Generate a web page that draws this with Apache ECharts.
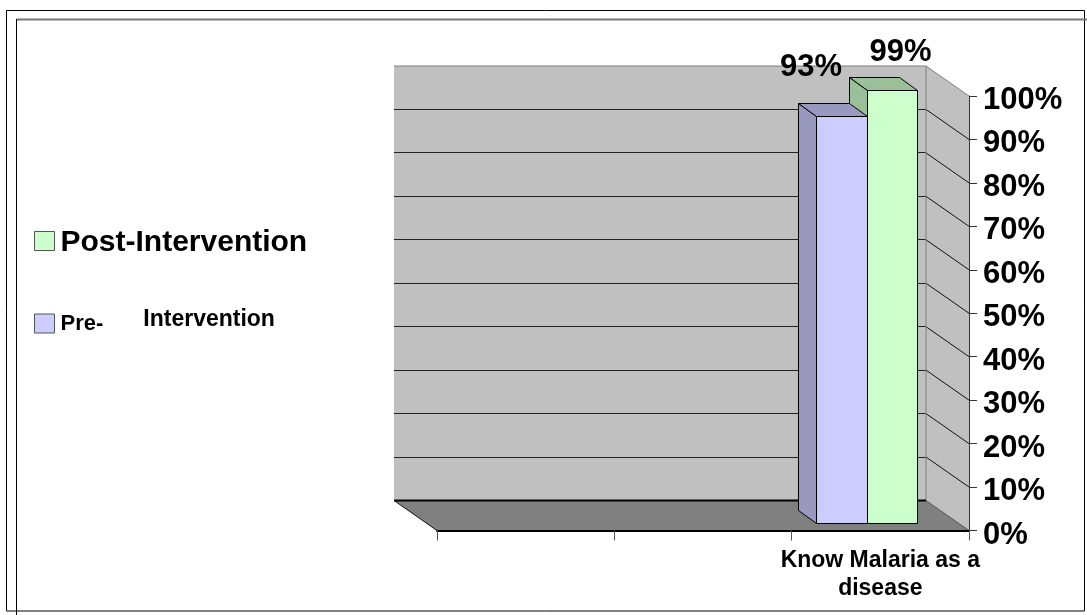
<!DOCTYPE html>
<html>
<head>
<meta charset="utf-8">
<script src="https://cdn.jsdelivr.net/npm/echarts@6/dist/echarts.min.js"></script>
<style>html,body{margin:0;padding:0;background:#fff}#c{width:1087px;height:615px}</style>
</head>
<body>
<div id="c"></div>
<script>
var categories = ['', ' ', 'Know Malaria as a\ndisease'];
var wallTicks = [0, 10, 20, 30, 40, 50, 60, 70, 80, 90, 100];
var preValues = [[2, 93]];
var postValues = [[2, 99]];
var seriesNames = ['Post-Intervention', 'Pre-Intervention'];

var FONT = '"Liberation Sans", Arial, sans-serif';
var DEPTH = [-43, -30];
var BAR_FRONT = [-13, -7];
var BAR_DEPTH = [-18, -13];
var BAR_W = 0.2855;
var BAR_SCALE = 1.006;

function poly(points, fill, stroke, lw) {
  return {type: 'polygon', shape: {points: points},
    style: {fill: fill, stroke: stroke || null, lineWidth: lw || 0}};
}
function line(a, b, color, lw) {
  return {type: 'line', shape: {x1: a[0], y1: a[1], x2: b[0], y2: b[1]},
    style: {stroke: color, lineWidth: lw || 1, fill: null}};
}
function off(p, d) { return [p[0] + d[0], p[1] + d[1]]; }
function snap(v) { return Math.floor(v) + 0.5; }

function renderWalls(params, api) {
  var band = api.size([1, 0])[0];
  var x0 = api.coord([0, 0])[0] - band / 2;
  var x1 = api.coord([2, 0])[0] + band / 2;
  var yAt = function (v) { return api.coord([0, v])[1]; };
  var fl = [x0, yAt(0)], fr = [x1, yAt(0)], tr = [x1, yAt(100)];
  var bl = off(fl, DEPTH), br = off(fr, DEPTH), btr = off(tr, DEPTH), btl = [bl[0], btr[1]];
  var kids = [
    poly([btl, btr, br, bl], '#c0c0c0'),
    poly([btr, tr, fr, br], '#c0c0c0'),
    poly([bl, br, fr, fl], '#808080')
  ];
  wallTicks.forEach(function (v) {
    if (v === 0 || v === 100) return;
    var f = [x1, yAt(v)], b = off(f, DEPTH);
    kids.push(line([bl[0], snap(b[1])], [b[0], snap(b[1])], '#222', 1));
    kids.push(line(b, f, '#111', 1));
  });
  kids.push(line(btl, btr, '#808080', 1));
  kids.push(line(btr, tr, '#808080', 1));
  kids.push(line(btr, br, '#808080', 1));
  kids.push(line(br, fr, '#555', 1));
  kids.push(line(bl, br, '#000', 2));
  kids.push(line(bl, fl, '#111', 1));
  return {type: 'group', children: kids};
}

function makeBar(slot, front, top, side, labelDx, labelDy) {
  return function (params, api) {
    var band = api.size([1, 0])[0];
    var v = api.value(1);
    var c = api.coord([api.value(0), 0]);
    var w = band * BAR_W;
    var xl = snap(c[0] + BAR_FRONT[0] + slot * w);
    var xr = snap(c[0] + BAR_FRONT[0] + (slot + 1) * w);
    var yb = snap(c[1] + BAR_FRONT[1]);
    var yt = snap(yb - (c[1] - api.coord([api.value(0), v])[1]) * BAR_SCALE);
    var a = [xl, yt], b = [xr, yt], d = [xl, yb], e = [xr, yb];
    return {type: 'group', children: [
      poly([off(a, BAR_DEPTH), a, d, off(d, BAR_DEPTH)], side, '#000', 1),
      poly([off(a, BAR_DEPTH), off(b, BAR_DEPTH), b, a], top, '#000', 1),
      poly([a, b, e, d], front, '#000', 1),
      {type: 'text', z2: 50, style: {
        text: v + '%', x: (xl + xr) / 2 + labelDx, y: yt + labelDy,
        font: 'bold 31px ' + FONT, fill: '#000', align: 'center', verticalAlign: 'middle'
      }}
    ]};
  };
}

var chart = echarts.init(document.getElementById('c'), null, {renderer: 'canvas'});
chart.setOption({
  animation: false,
  backgroundColor: '#fff',
  graphic: [
    {type: 'rect', z: 100, shape: {x: 6.5, y: 10.5, width: 1078, height: 600.5},
      style: {fill: null, stroke: '#000', lineWidth: 1}},
    {type: 'line', z: 100, shape: {x1: 16.5, y1: 19.5, x2: 1087, y2: 19.5},
      style: {stroke: '#777', lineWidth: 2}},
    {type: 'line', z: 100, shape: {x1: 16.5, y1: 19, x2: 16.5, y2: 615},
      style: {stroke: '#000', lineWidth: 1}}
  ],
  grid: {left: 437, right: 118, top: 96, bottom: 84.5, containLabel: false},
  legend: {
    orient: 'vertical', left: 34, top: 227.5, padding: 0, itemWidth: 20, itemHeight: 19, itemGap: 50.5,
    icon: 'rect', selectedMode: false,
    data: [
      {name: seriesNames[0], itemStyle: {color: '#ccffcc', borderColor: '#555', borderWidth: 1}},
      {name: seriesNames[1], itemStyle: {color: '#ccccff', borderColor: '#555', borderWidth: 1}}
    ],
    formatter: function (n) {
      return n === seriesNames[0] ? '{post|Post-Intervention}' : '{pre|Pre-}{gap|}{pre2|Intervention}';
    },
    textStyle: {
      fontFamily: FONT, fontWeight: 'bold', color: '#000',
      rich: {
        post: {fontSize: 30, fontWeight: 'bold', fontFamily: FONT, color: '#000', padding: [3, 0, 0, 1]},
        pre: {fontSize: 22, fontWeight: 'bold', fontFamily: FONT, color: '#000', padding: [0, 0, 0, 1]},
        gap: {width: 40},
        pre2: {fontSize: 23, fontWeight: 'bold', fontFamily: FONT, color: '#000', padding: [0, 0, 8, 0]}
      }
    }
  },
  xAxis: {
    type: 'category', data: categories, z: 10,
    axisLine: {show: true, lineStyle: {color: '#000', width: 2}},
    axisTick: {show: true, length: 10, alignWithLabel: false, interval: 0, lineStyle: {color: '#555', width: 1}},
    axisLabel: {show: true, interval: 0, margin: 16, lineHeight: 28,
      fontFamily: FONT, fontWeight: 'bold', fontSize: 23, color: '#000'},
    splitLine: {show: false}
  },
  yAxis: {
    type: 'value', position: 'right', min: 0, max: 100, interval: 10, z: 10,
    axisLine: {show: true, lineStyle: {color: '#333', width: 1}},
    axisTick: {show: true, length: 8, lineStyle: {color: '#333', width: 1}},
    axisLabel: {show: true, margin: 14, formatter: '{v|{value}%}',
      fontFamily: FONT, fontWeight: 'bold', fontSize: 31, color: '#000',
      rich: {v: {fontFamily: FONT, fontWeight: 'bold', fontSize: 31, color: '#000', padding: [9, 0, 0, 0]}}},
    splitLine: {show: false}
  },
  series: [
    {type: 'custom', name: 'walls', z: 1, silent: true, data: [[0, 0]], renderItem: renderWalls},
    {type: 'custom', name: seriesNames[0], z: 3, data: postValues,
      itemStyle: {color: '#ccffcc'},
      encode: {x: 0, y: 1}, renderItem: makeBar(0, '#ccffcc', '#99c099', '#99c099', 8, -38)},
    {type: 'custom', name: seriesNames[1], z: 4, data: preValues,
      itemStyle: {color: '#ccccff'},
      encode: {x: 0, y: 1}, renderItem: makeBar(-1, '#ccccff', '#9999c0', '#9999c0', -31, -49)}
  ]
});
</script>
</body>
</html>
